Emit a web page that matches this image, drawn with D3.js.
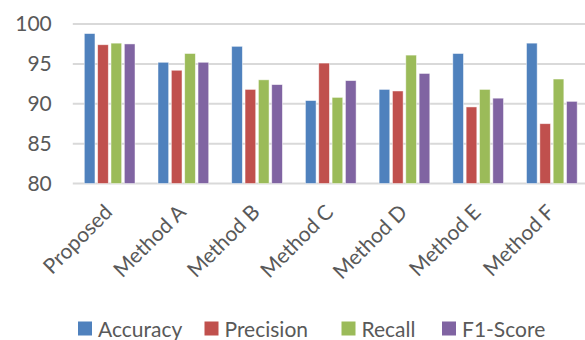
<!DOCTYPE html>
<html>
<head>
<meta charset="utf-8">
<script src="https://cdn.jsdelivr.net/npm/d3@7"></script>
<style>
  html, body { margin: 0; padding: 0; background: #fff; }
  svg { display: block; }
  text { font-family: Lato, "Open Sans", sans-serif; fill: #595959; }
</style>
</head>
<body>
<svg id="chart" width="585" height="340"></svg>
<script>
// Model comparison across four metrics (%)
const methods = ["Proposed", "Method A", "Method B", "Method C", "Method D", "Method E", "Method F"];
const metrics = ["Accuracy", "Precision", "Recall", "F1-Score"];
const accuracy  = [98.8, 95.2, 97.2, 90.4, 91.8, 96.3, 97.6];
const precision = [97.4, 94.2, 91.8, 95.1, 91.6, 89.6, 87.5];
const recall    = [97.6, 96.3, 93.0, 90.8, 96.1, 91.8, 93.1];
const f1score   = [97.5, 95.2, 92.4, 92.9, 93.8, 90.7, 90.3];
const yTicks = [80, 85, 90, 95, 100];
const colors = ["#4F81BD", "#C0504D", "#9BBB59", "#8064A2"];

const seriesValues = [accuracy, precision, recall, f1score];

const svg = d3.select("#chart");
const plot = { left: 72.8, right: 588.7, top: 24, bottom: 183.5 };

const x0 = d3.scaleBand()
  .domain(methods)
  .range([plot.left, plot.right])
  .paddingInner(0.312)
  .paddingOuter(0.156);

const x1 = d3.scaleBand()
  .domain(metrics)
  .range([0, x0.bandwidth()])
  .paddingInner(0.2)
  .paddingOuter(0);

const y = d3.scaleLinear().domain([80, 100]).range([plot.bottom, plot.top]);
const color = d3.scaleOrdinal().domain(metrics).range(colors);

// Horizontal gridlines
svg.append("g")
  .selectAll("line")
  .data(yTicks)
  .join("line")
  .attr("x1", plot.left)
  .attr("x2", plot.right)
  .attr("y1", d => y(d))
  .attr("y2", d => y(d))
  .attr("stroke", "#D9D9D9")
  .attr("stroke-width", 2);

// Y axis labels
const yAxis = d3.axisLeft(y).tickValues(yTicks).tickSize(0).tickPadding(0);
svg.append("g")
  .attr("transform", `translate(${plot.left - 21},0)`)
  .call(yAxis)
  .call(g => g.select(".domain").remove())
  .selectAll("text")
  .style("font-family", "Lato, 'Open Sans', sans-serif")
  .style("font-size", "21px")
  .attr("fill", "#595959");

// Bars
const rows = methods.map((m, i) => ({
  method: m,
  values: metrics.map((k, j) => ({ key: k, value: seriesValues[j][i] }))
}));

svg.append("g")
  .selectAll("g")
  .data(rows)
  .join("g")
  .attr("transform", d => `translate(${x0(d.method)},0)`)
  .selectAll("rect")
  .data(d => d.values)
  .join("rect")
  .attr("x", d => x1(d.key))
  .attr("width", x1.bandwidth())
  .attr("y", d => y(d.value))
  .attr("height", d => y(80) - y(d.value))
  .attr("fill", d => color(d.key))
  .attr("stroke", "rgba(255,255,255,0.6)")
  .attr("stroke-width", 0.8);

// Category labels, rotated
const xAxis = d3.axisBottom(x0).tickSize(0).tickPadding(0);
svg.append("g")
  .attr("transform", `translate(0,${plot.bottom})`)
  .call(xAxis)
  .call(g => g.select(".domain").remove())
  .selectAll("text")
  .style("font-family", "Lato, 'Open Sans', sans-serif")
  .style("font-size", "21px")
  .attr("fill", "#595959")
  .attr("text-anchor", "end")
  .attr("dy", null)
  .attr("y", 0)
  .attr("transform", "translate(4,30) rotate(-45)");

// Legend
const legendX = [78, 204.5, 341.5, 442];
const legend = svg.append("g")
  .selectAll("g")
  .data(metrics)
  .join("g")
  .attr("transform", (d, i) => `translate(${legendX[i]},321.5)`);

legend.append("rect")
  .attr("width", 14)
  .attr("height", 14)
  .attr("fill", d => color(d));

legend.append("text")
  .attr("x", 20)
  .attr("y", 15)
  .style("font-size", "21px")
  .text(d => d);
</script>
</body>
</html>
